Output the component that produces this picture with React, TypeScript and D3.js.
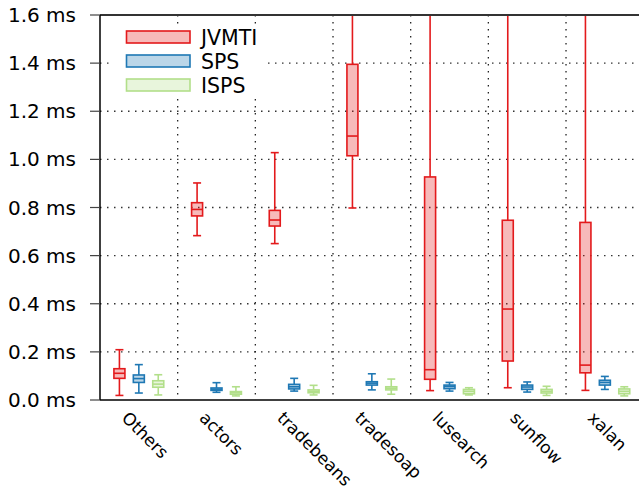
import React from "react";
import * as d3 from "d3";

const categories = ["Others", "actors", "tradebeans", "tradesoap", "lusearch", "sunflow", "xalan"];
const seriesNames = ["JVMTI", "SPS", "ISPS"];
const seriesStroke = ["#e31a1c", "#1f78b4", "#b2df8a"];
const yTicks = [0, 0.2, 0.4, 0.6, 0.8, 1.0, 1.2, 1.4, 1.6];

// [min, q1, median, q3, max] in ms, per category
const jvmti = [
  [0.019, 0.090, 0.111, 0.130, 0.209],
  [0.683, 0.765, 0.792, 0.820, 0.902],
  [0.650, 0.723, 0.748, 0.788, 1.028],
  [0.798, 1.015, 1.097, 1.395, 1.9],
  [0.039, 0.086, 0.126, 0.927, 1.9],
  [0.051, 0.162, 0.378, 0.747, 1.9],
  [0.040, 0.113, 0.145, 0.738, 1.9],
];
const sps = [
  [0.029, 0.073, 0.089, 0.104, 0.147],
  [0.032, 0.040, 0.045, 0.050, 0.072],
  [0.037, 0.046, 0.055, 0.065, 0.090],
  [0.042, 0.062, 0.070, 0.076, 0.109],
  [0.037, 0.047, 0.056, 0.062, 0.073],
  [0.033, 0.044, 0.054, 0.062, 0.075],
  [0.044, 0.062, 0.073, 0.082, 0.098],
];
const isps = [
  [0.021, 0.053, 0.066, 0.080, 0.105],
  [0.017, 0.024, 0.030, 0.035, 0.055],
  [0.021, 0.030, 0.036, 0.042, 0.061],
  [0.024, 0.042, 0.049, 0.055, 0.087],
  [0.021, 0.026, 0.036, 0.044, 0.051],
  [0.019, 0.029, 0.036, 0.044, 0.057],
  [0.017, 0.026, 0.036, 0.046, 0.055],
];
const allSeries = [jvmti, sps, isps];

const W = 639, H = 489;
const left = 100, top = 15, bottom = 400;
const step = 77.67;

export default function App() {
  const x = d3.scaleBand<string>().domain(categories).range([left, left + step * categories.length]).padding(0);
  const y = d3.scaleLinear().domain([0, 1.6]).range([bottom, top]);
  const bw = x.bandwidth();
  const off = bw / 4;
  const boxW = 11;
  const capW = 8;
  const font = "DejaVu Sans, sans-serif";

  return (
    <svg width={W} height={H} style={{ position: "absolute", left: 0, top: 0, background: "#fff" }} fontFamily={font}>
      <defs>
        <clipPath id="plot">
          <rect x={left} y={top} width={W - left} height={bottom - top} />
        </clipPath>
      </defs>
      {/* horizontal grid */}
      {yTicks.slice(1, -1).map((t) => (
        <line key={"hg" + t} x1={left} x2={W} y1={y(t)} y2={y(t)} stroke="#333" strokeWidth={1.3} strokeDasharray="1.5,5.5" />
      ))}
      {/* vertical grid */}
      {categories.slice(1).map((c) => (
        <line key={"vg" + c} x1={x(c)!} x2={x(c)!} y1={top} y2={bottom} stroke="#222" strokeWidth={1.3} strokeDasharray="1.5,5.5" />
      ))}
      {/* boxes */}
      <g clipPath="url(#plot)">
        {allSeries.map((ser, si) =>
          ser.map((d, ci) => {
            const cx = x(categories[ci])! + bw / 2 + (si - 1) * off;
            const [mn, q1, md, q3, mx] = d;
            const col = seriesStroke[si];
            return (
              <g key={si + "-" + ci} stroke={col} strokeWidth={1.6}>
                <line x1={cx} x2={cx} y1={y(q3)} y2={y(mx)} />
                <line x1={cx} x2={cx} y1={y(q1)} y2={y(mn)} />
                <line x1={cx - capW / 2} x2={cx + capW / 2} y1={y(mx)} y2={y(mx)} />
                <line x1={cx - capW / 2} x2={cx + capW / 2} y1={y(mn)} y2={y(mn)} />
                <rect x={cx - boxW / 2} y={y(q3)} width={boxW} height={Math.max(0.5, y(q1) - y(q3))} fill={col} fillOpacity={0.3} />
                <line x1={cx - boxW / 2} x2={cx + boxW / 2} y1={y(md)} y2={y(md)} />
              </g>
            );
          })
        )}
      </g>
      {/* legend */}
      <rect x={110} y={25} width={158} height={72} fill="#fff" />
      {seriesNames.map((n, i) => (
        <g key={n}>
          <rect x={126.5} y={31 + i * 24} width={63.5} height={12} fill={seriesStroke[i]} fillOpacity={0.3} stroke={seriesStroke[i]} strokeWidth={1.6} />
          <text x={201} y={44.5 + i * 24} fontSize={20.5} fill="#000">{n}</text>
        </g>
      ))}
      {/* axes */}
      <line x1={left} x2={W} y1={top} y2={top} stroke="#333" strokeWidth={2} />
      <line x1={left} x2={left} y1={top} y2={bottom} stroke="#000" strokeWidth={1.5} />
      <line x1={left} x2={W} y1={bottom} y2={bottom} stroke="#000" strokeWidth={1.5} />
      {yTicks.map((t) => (
        <g key={"yt" + t}>
          <line x1={90} x2={left} y1={y(t)} y2={y(t)} stroke="#444" strokeWidth={1.2} />
          <text x={76} y={y(t) + 7} textAnchor="end" fontSize={20} fill="#000">
            {t.toFixed(1) + " ms"}
          </text>
        </g>
      ))}
      {categories.map((c) => {
        const cx = x(c)! + bw / 2;
        const tx = cx - 18, ty = 419;
        return (
          <text key={"xl" + c} x={tx} y={ty} fontSize={17} fill="#000" transform={`rotate(45, ${tx}, ${ty})`}>
            {c}
          </text>
        );
      })}
    </svg>
  );
}
